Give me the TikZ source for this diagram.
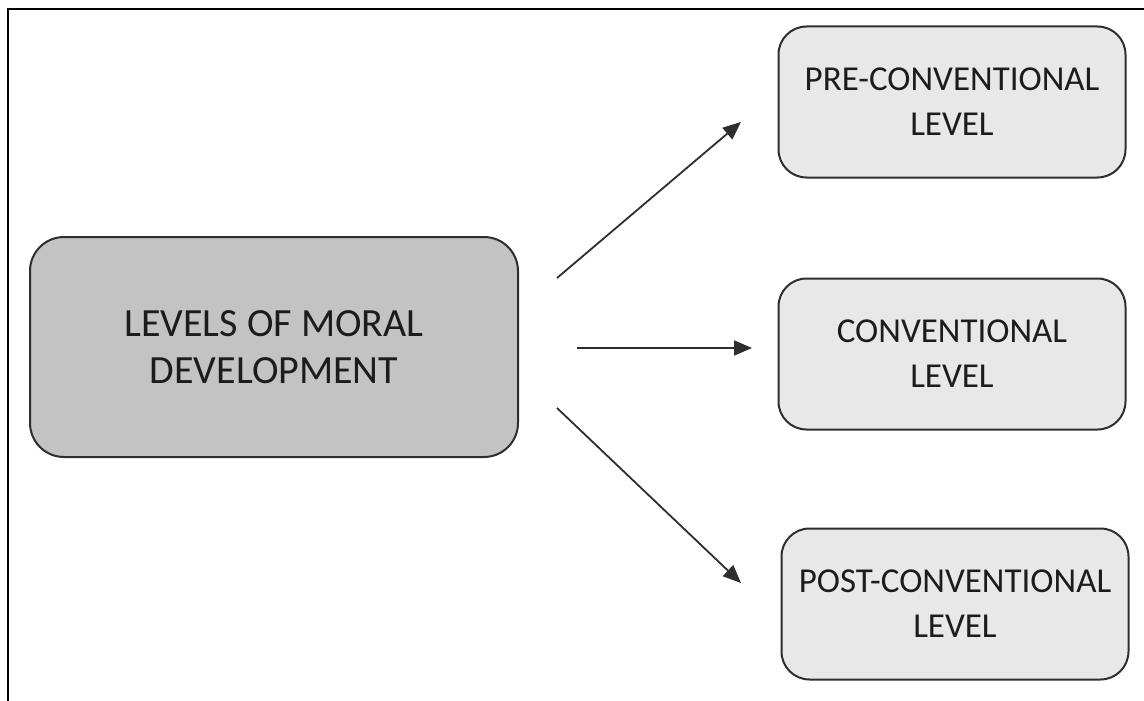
\documentclass[tikz,border=0pt]{standalone}
\usepackage{fontspec}
\setmainfont{Carlito}
\usetikzlibrary{arrows.meta}
\definecolor{edge}{HTML}{2E2E2E}
\definecolor{mainfill}{HTML}{C3C3C3}
\definecolor{subfill}{HTML}{E8E8E8}
\definecolor{ink}{HTML}{1C1C1C}
\begin{document}
\begin{tikzpicture}[x=1pt,y=-1pt,
  mainbox/.style={draw=edge, line width=2pt, fill=mainfill, rounded corners=34pt,
    minimum width=488pt, minimum height=220pt, align=center, text=ink,
    font=\fontsize{40}{47}\selectfont, inner sep=0pt},
  subbox/.style={draw=edge, line width=2pt, fill=subfill, rounded corners=28pt,
    minimum width=347pt, minimum height=151pt, align=center, text=ink,
    font=\fontsize{35}{45}\selectfont, inner sep=0pt},
  conn/.style={draw=edge, line width=1.8pt, -{Triangle[length=18pt,width=15pt]}},
  frame/.style={draw=black, line width=2.5pt}
]
\useasboundingbox (0,0) rectangle (1144,701);
\coordinate (tl) at (8,9);
\coordinate (tr) at (1144,9);
\coordinate (bl) at (8,701);
\draw[frame] (tr) -- (tl) -- (bl);

\node[mainbox] (main) at (274,347) {LEVELS OF MORAL\\DEVELOPMENT};
\node[subbox] (pre) at (952,102) {PRE-CONVENTIONAL\\LEVEL};
\node[subbox] (conv) at (952,354) {CONVENTIONAL\\LEVEL};
\node[subbox] (post) at (955,604) {POST-CONVENTIONAL\\LEVEL};

\coordinate (s1) at (557,278);
\coordinate (e1) at (741,122);
\coordinate (s2) at (577,348);
\coordinate (e2) at (752,348);
\coordinate (s3) at (557,408);
\coordinate (e3) at (741,583);
\draw[conn] (s1) -- (e1);
\draw[conn] (s2) -- (e2);
\draw[conn] (s3) -- (e3);
\end{tikzpicture}
\end{document}
